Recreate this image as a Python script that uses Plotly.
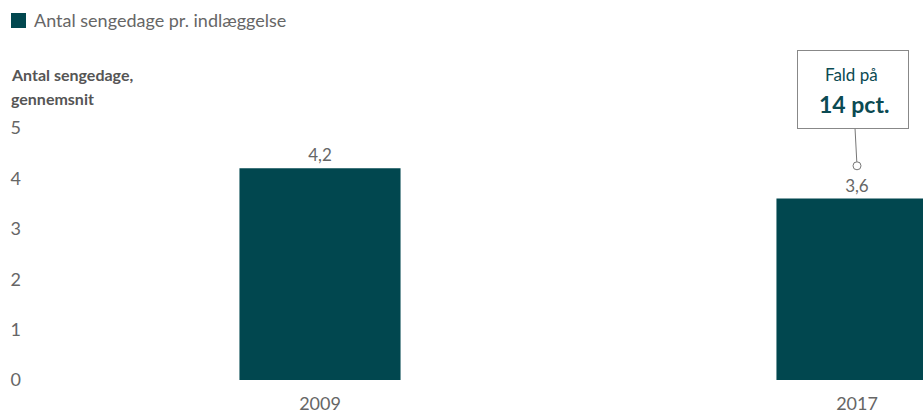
import plotly.graph_objects as go

categories = ["2009", "2017"]
values = [4.2, 3.6]
series_name = "Antal sengedage pr. indlæggelse"
y_ticks = [0, 1, 2, 3, 4, 5]
callout_top = "Fald på"
callout_bold = "14 pct."
y_title = ["Antal sengedage,", "gennemsnit"]

BAR = "#01474f"
GRAY = "#666666"
TEAL_TXT = "#0b4a52"
FONT = "Lato"

W, H = 923, 414
L, R, T, B = 22, 0, 128, 34
PW, PH = W - L - R, H - T - B


def px(fx):
    return (fx - L) / PW


def py(fy):
    return (H - B - fy) / PH


xpos = list(range(len(categories)))
unit = 537.0
c0 = 320.0

fig = go.Figure()
fig.add_trace(go.Bar(
    x=xpos, y=values, name=series_name, width=0.3,
    marker=dict(color=BAR, line=dict(width=0)),
    texttemplate="%{y:.1f}", textposition="outside",
    textfont=dict(size=17, color=GRAY, family=FONT),
    cliponaxis=False, showlegend=False, hoverinfo="skip",
))

tip_y = values[1] + 0.65
fig.add_trace(go.Scatter(
    x=[xpos[1]], y=[tip_y], mode="markers", showlegend=False,
    marker=dict(symbol="circle", size=8, color="white", line=dict(color="#777777", width=1)),
    cliponaxis=False, hoverinfo="skip",
))

# callout box with connector
fig.add_annotation(
    x=xpos[1], y=tip_y, xref="x", yref="y", text=" ",
    showarrow=True, arrowhead=0, arrowwidth=1, arrowcolor="#777777",
    ax=-4, ay=-76, standoff=4,
    width=108, height=75, borderpad=1,
    bordercolor="#888888", borderwidth=1, bgcolor="white",
)
fig.add_annotation(x=xpos[1], y=tip_y, xref="x", yref="y", text=callout_top,
                   showarrow=False, xshift=-6, yshift=91,
                   font=dict(size=17, family=FONT, color=TEAL_TXT))
fig.add_annotation(x=xpos[1], y=tip_y, xref="x", yref="y", text=f"<b>{callout_bold}</b>",
                   showarrow=False, xshift=-3, yshift=62,
                   font=dict(size=23, family=FONT, color=TEAL_TXT))

# legend (manual, matching reference placement)
fig.add_shape(type="rect", xref="paper", yref="paper",
              x0=px(11), x1=px(26), y0=py(28), y1=py(13),
              fillcolor=BAR, line=dict(width=0))
fig.add_annotation(text=series_name, xref="paper", yref="paper",
                   x=px(32), y=py(20), xanchor="left", yanchor="middle",
                   showarrow=False, font=dict(size=18, color=GRAY, family=FONT))

for line, fy in zip(y_title, [74, 98]):
    fig.add_annotation(text=f"<b>{line}</b>", xref="paper", yref="paper",
                       x=px(9), y=py(fy), xanchor="left", yanchor="middle",
                       showarrow=False, font=dict(size=16, color="#555555", family=FONT))

fig.update_layout(
    width=W, height=H,
    margin=dict(l=L, r=R, t=T, b=B),
    plot_bgcolor="white", paper_bgcolor="white",
    separators=",.",
    font=dict(family=FONT, color=GRAY),
    showlegend=False,
    xaxis=dict(range=[(L - c0) / unit, (W - c0) / unit], tickvals=xpos, ticktext=categories,
               showgrid=False, zeroline=False, showline=False, automargin=False,
               ticks="outside", ticklen=7, tickcolor="rgba(0,0,0,0)",
               tickfont=dict(size=18, color=GRAY, family=FONT), fixedrange=True),
    yaxis=dict(range=[0, 5], tickvals=y_ticks, showgrid=False, zeroline=False,
               showline=False, ticks="", automargin=False,
               tickfont=dict(size=18, color=GRAY, family=FONT),
               fixedrange=True),
)

fig.write_html(
    "out.html",
    config={"displayModeBar": False},
    post_script="document.body.style.margin='0';document.body.style.overflow='hidden';",
)
